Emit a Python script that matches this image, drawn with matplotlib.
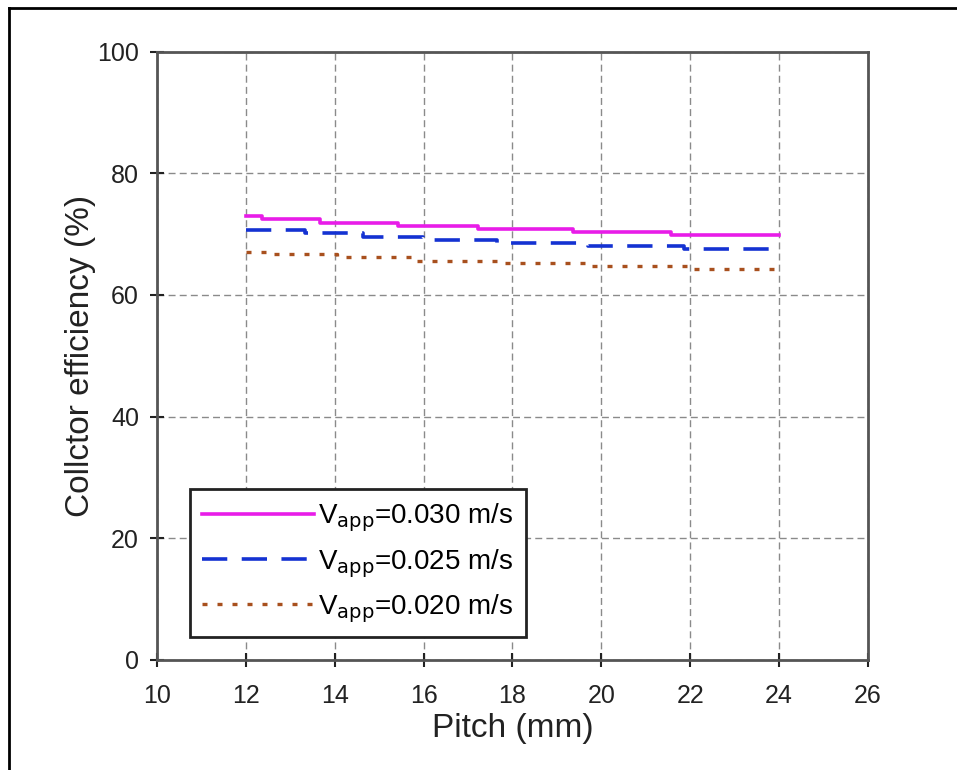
import matplotlib.pyplot as plt
from matplotlib.lines import Line2D

plt.rcParams["font.family"] = ["Liberation Sans", "DejaVu Sans"]

# step profiles (pitch in mm, efficiency in %)
PITCH_030 = [12, 12.37, 13.67, 15.43, 17.23, 19.37, 21.56, 24]
EFF_030 = [73.0, 72.4, 71.8, 71.3, 70.8, 70.3, 69.9, 69.9]

PITCH_025 = [12, 13.34, 14.64, 15.99, 17.66, 19.69, 21.85, 24]
EFF_025 = [70.6, 70.1, 69.6, 69.1, 68.6, 68.1, 67.6, 67.6]

PITCH_020 = [12, 12.61, 14.06, 15.86, 17.66, 19.76, 21.94, 24]
EFF_020 = [67.1, 66.7, 66.3, 65.6, 65.3, 64.8, 64.3, 64.3]

LABELS = [r"V$_{\mathrm{app}}$=0.030 m/s", r"V$_{\mathrm{app}}$=0.025 m/s", r"V$_{\mathrm{app}}$=0.020 m/s"]
X_TICKS = [10, 12, 14, 16, 18, 20, 22, 24, 26]
Y_TICKS = [0, 20, 40, 60, 80, 100]

fig = plt.figure(figsize=(9.57, 7.70), dpi=100)
fig.patch.set_facecolor("white")
ax = fig.add_axes([0.164, 0.143, 0.743, 0.790])

ax.step(PITCH_030, EFF_030, where="post", color="#E81CE8", linewidth=2.6, label=LABELS[0])
ax.step(PITCH_025, EFF_025, where="post", color="#1432D2", linewidth=2.6,
        linestyle=(0, (7, 4)), label=LABELS[1])
ax.step(PITCH_020, EFF_020, where="post", color="#A8501E", linewidth=2.4,
        linestyle=(0, (1.5, 3)), label=LABELS[2])

ax.set_xlim(10, 26)
ax.set_ylim(0, 100)
ax.set_xticks(X_TICKS)
ax.set_yticks(Y_TICKS)
ax.tick_params(direction="inout", length=10, width=1.5, labelsize=18, colors="#222222")
ax.tick_params(axis="x", pad=12)
ax.tick_params(axis="y", pad=8)
ax.grid(True, color="#8a8a8a", linestyle=(0, (5, 3)), linewidth=1.0)
for spine in ax.spines.values():
    spine.set_color("#555555")
    spine.set_linewidth(2.0)

ax.set_xlabel("Pitch (mm)", fontsize=24, color="#222222", labelpad=4)
ax.set_ylabel("Collctor efficiency (%)", fontsize=24, color="#222222", labelpad=1)

leg = ax.legend(loc="lower left", bbox_to_anchor=(0.046, 0.037), fontsize=20,
                handlelength=4.0, handletextpad=0.15, labelspacing=0.45,
                fancybox=False, framealpha=1, borderpad=0.46, borderaxespad=0)
leg.get_frame().set_edgecolor("#222222")
leg.get_frame().set_linewidth(2.0)

# outer frame of the original picture
fig.add_artist(Line2D([0.0095, 0.0095], [0, 0.99], transform=fig.transFigure, color="black", linewidth=2))
fig.add_artist(Line2D([0.0095, 1], [0.99, 0.99], transform=fig.transFigure, color="black", linewidth=2))

fig.savefig("out.png", dpi=100, facecolor="white")
